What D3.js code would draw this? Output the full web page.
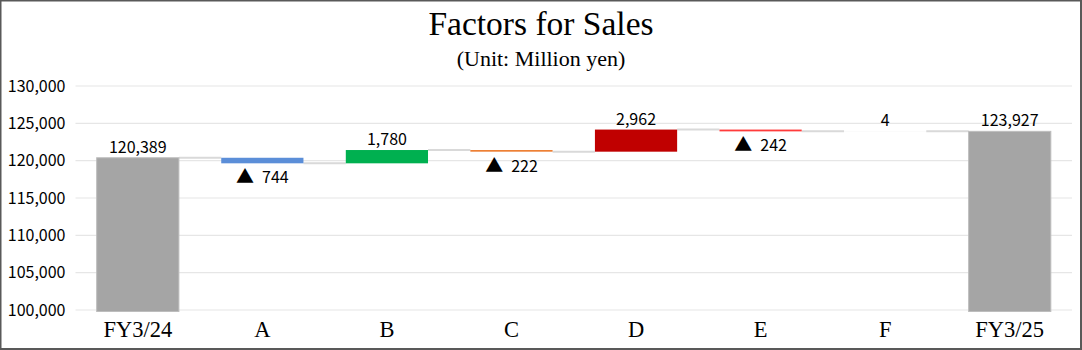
<!DOCTYPE html>
<html><head><meta charset="utf-8">
<script src="https://cdn.jsdelivr.net/npm/d3@7"></script>
<style>body{margin:0;background:#fff}svg{display:block}</style>
</head><body>
<svg id="c" width="1082" height="350"></svg>
<script>
const categories = ["FY3/24","A","B","C","D","E","F","FY3/25"];
const deltas = [120389,-744,1780,-222,2962,-242,4,123927];
const kinds = ["total","delta","delta","delta","delta","delta","delta","total"];
const colors = ["#a5a5a5","#5b8ed8","#00b050","#ed7d31","#c00000","#ff3b3b","#7f7f7f","#a5a5a5"];
const yTicks = [100000,105000,110000,115000,120000,125000,130000];

const svg = d3.select("#c");
const W=1082,H=350;
const m={left:75.5,right:10,top:86,bottom:40};
const x=d3.scaleBand().domain(categories).range([m.left,W-m.right]).paddingInner(0.34).paddingOuter(0.17);
const y=d3.scaleLinear().domain([100000,130000]).range([310,86]);
const numFont="'Noto Sans CJK JP','Noto Sans',sans-serif";

// compute waterfall
let run=0; const rows=[];
categories.forEach((c,i)=>{
  let lo,hi,end;
  if(kinds[i]==="total"){ lo=100000; hi=deltas[i]; end=deltas[i]; run=end; }
  else { const s=run; end=s+deltas[i]; lo=Math.min(s,end); hi=Math.max(s,end); run=end; }
  rows.push({c,v:deltas[i],lo,hi,end,kind:kinds[i],color:colors[i]});
});

// gridlines
svg.append("g").selectAll("line").data(yTicks).join("line")
  .attr("x1",m.left).attr("x2",W-m.right)
  .attr("y1",d=>y(d)).attr("y2",d=>y(d))
  .attr("stroke","#e6e6e6").attr("stroke-width",1.2);

// y axis labels
const ya=svg.append("g").attr("transform",`translate(${m.left-7},0)`)
  .call(d3.axisLeft(y).tickValues(yTicks).tickFormat(d3.format(",")).tickSize(0));
ya.select(".domain").remove();
ya.selectAll("text").attr("font-family",numFont).attr("font-size",16).attr("fill","#000");

// connectors
svg.append("g").selectAll("line").data(rows.slice(0,-1)).join("line")
  .attr("x1",(d)=>x(d.c)+x.bandwidth())
  .attr("x2",(d,i)=>x(rows[i+1].c))
  .attr("y1",d=>y(d.end)).attr("y2",d=>y(d.end))
  .attr("stroke","#d9d9d9").attr("stroke-width",2);

// bars
svg.append("g").selectAll("rect").data(rows).join("rect")
  .attr("x",d=>x(d.c)).attr("width",x.bandwidth())
  .attr("y",d=>y(d.hi))
  .attr("height",d=>Math.max(0.0,(d.kind==="total"? y(d.lo)+1.5: y(d.lo))-y(d.hi)))
  .attr("fill",d=>d.color)
  .attr("stroke",d=>d.kind==="total"?"#bdbdbd":"none").attr("stroke-width",1);

// value labels
const fmt=d3.format(",");
const vl=svg.append("g").selectAll("text").data(rows).join("text")
  .attr("x",d=>x(d.c)+x.bandwidth()/2)
  .attr("y",d=> d.v<0 ? y(d.lo)+20 : y(d.hi)-5)
  .attr("text-anchor","middle")
  .attr("font-family",numFont).attr("font-size",16).attr("fill","#000");
vl.each(function(d){
  const t=d3.select(this);
  if(d.v<0){
    t.append("tspan").attr("font-size",18).text("▲");
    t.append("tspan").attr("dx",8).text(fmt(-d.v));
  } else t.text(fmt(d.v));
});

// category labels
svg.append("g").selectAll("text").data(categories).join("text")
  .attr("x",d=>x(d)+x.bandwidth()/2).attr("y",337)
  .attr("text-anchor","middle")
  .attr("font-family","'Liberation Serif','Times New Roman',serif").attr("font-size",22.5).attr("fill","#000")
  .text(d=>d);

// title
svg.append("text").attr("x",541).attr("y",35).attr("text-anchor","middle")
  .attr("font-family","'Liberation Serif',serif").attr("font-size",33.5).text("Factors for Sales");
svg.append("text").attr("x",541).attr("y",66).attr("text-anchor","middle")
  .attr("font-family","'Liberation Serif',serif").attr("font-size",22).text("(Unit: Million yen)");

// border
svg.append("rect").attr("x",0.5).attr("y",0.5).attr("width",W-1.5).attr("height",H-1.5)
  .attr("fill","none").attr("stroke","#595959").attr("stroke-width",2);
</script>
</body></html>
